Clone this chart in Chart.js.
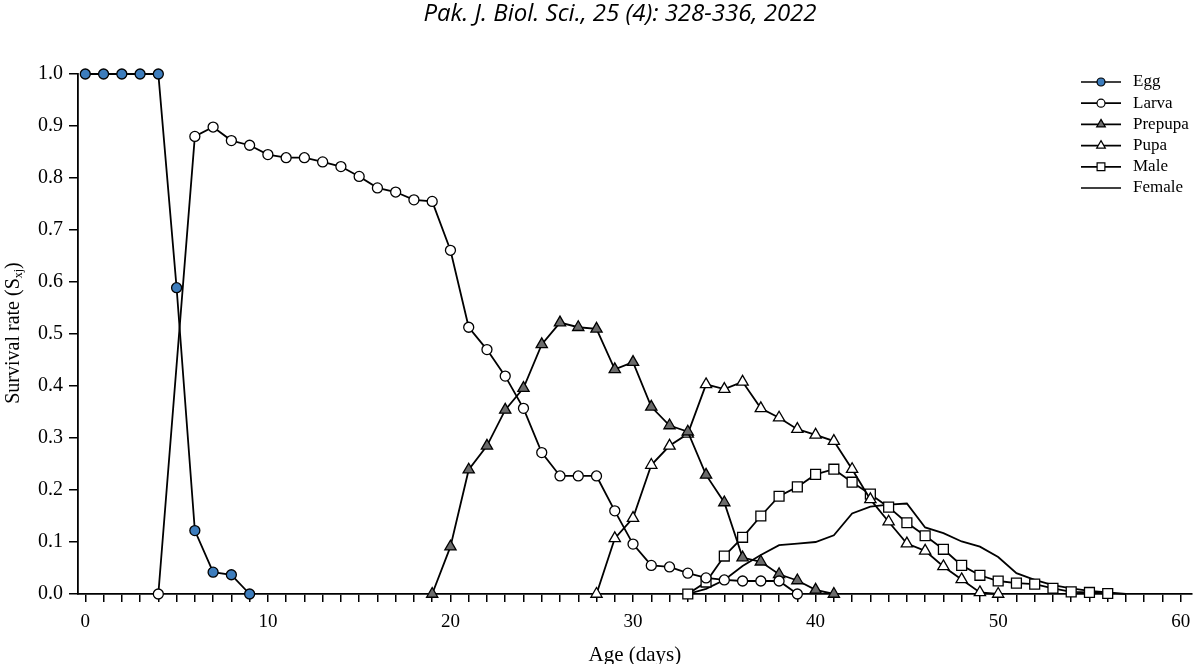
<!DOCTYPE html>
<html>
<head>
<meta charset="utf-8">
<title>Survival rate by age</title>
<script src="https://cdn.jsdelivr.net/npm/chart.js@4.4.1/dist/chart.umd.min.js"></script>
<style>
  html, body { margin: 0; padding: 0; background: #ffffff; }
  #wrap { width: 1200px; height: 664px; position: relative; }
</style>
</head>
<body>
<div id="wrap"><canvas id="chart"></canvas></div>
<script>
(() => {
    'use strict';

    // survival rate (Sxj) per stage
    const eggDays = [0, 1, 2, 3, 4, 5, 6, 7, 8, 9];
    const eggSurvival = [1, 1, 1, 1, 1, 0.589, 0.122, 0.042, 0.037, 0];

    const larvaDays = [4, 6, 7, 8, 9, 10, 11, 12, 13, 14, 15, 16, 17, 18, 19, 20, 21, 22, 23, 24,
        25, 26, 27, 28, 29, 30, 31, 32, 33, 34, 35, 36, 37, 38, 39];
    const larvaSurvival = [0, 0.880, 0.898, 0.872, 0.863, 0.845, 0.839, 0.839, 0.831, 0.822, 0.803,
        0.781, 0.773, 0.758, 0.755, 0.661, 0.513, 0.470, 0.419, 0.357, 0.272, 0.227, 0.227, 0.227,
        0.160, 0.096, 0.055, 0.052, 0.040, 0.031, 0.027, 0.025, 0.025, 0.025, 0];

    const prepupaDays = [19, 20, 21, 22, 23, 24, 25, 26, 27, 28, 29, 30, 31, 32, 33, 34, 35, 36, 37,
        38, 39, 40, 41];
    const prepupaSurvival = [0, 0.091, 0.239, 0.285, 0.354, 0.396, 0.480, 0.522, 0.513, 0.510, 0.432,
        0.446, 0.360, 0.324, 0.312, 0.229, 0.176, 0.070, 0.062, 0.038, 0.026, 0.008, 0];

    const pupaDays = [28, 29, 30, 31, 32, 33, 34, 35, 36, 37, 38, 39, 40, 41, 42, 43, 44, 45, 46, 47,
        48, 49, 50];
    const pupaSurvival = [0, 0.107, 0.146, 0.248, 0.285, 0.308, 0.403, 0.394, 0.408, 0.357, 0.339,
        0.317, 0.306, 0.294, 0.240, 0.182, 0.139, 0.097, 0.083, 0.053, 0.028, 0.003, 0];

    const maleDays = [33, 34, 35, 36, 37, 38, 39, 40, 41, 42, 43, 44, 45, 46, 47, 48, 49, 50, 51, 52,
        53, 54, 55, 56];
    const maleSurvival = [0, 0.023, 0.073, 0.109, 0.150, 0.188, 0.206, 0.230, 0.240, 0.215, 0.192,
        0.167, 0.137, 0.112, 0.086, 0.055, 0.036, 0.025, 0.021, 0.019, 0.011, 0.004, 0.003, 0.001];

    const femaleDays = [33, 34, 35, 36, 37, 38, 39, 40, 41, 42, 43, 44, 45, 46, 47, 48, 49, 50, 51,
        52, 53, 54, 55, 56, 57];
    const femaleSurvival = [0, 0.010, 0.027, 0.054, 0.075, 0.094, 0.097, 0.100, 0.113, 0.155, 0.168,
        0.172, 0.174, 0.128, 0.117, 0.101, 0.091, 0.071, 0.040, 0.027, 0.017, 0.011, 0.006, 0.003, 0];

    const xLabelDays = [0, 10, 20, 30, 40, 50, 60];
    const yTickValues = [0, 0.1, 0.2, 0.3, 0.4, 0.5, 0.6, 0.7, 0.8, 0.9, 1.0];

    const serif = '"Liberation Serif", "Times New Roman", serif';

    const toPoints = (days, values) => days.map((day, index) => ({ x: day, y: values[index] }));

    const series = (label, days, values, style) => ({
        label,
        data: toPoints(days, values),
        borderColor: '#000000',
        borderWidth: 1.8,
        tension: 0,
        clip: false,
        pointStyle: style.pointStyle || 'circle',
        pointRadius: style.radius || 0,
        pointHoverRadius: style.radius || 0,
        pointBackgroundColor: style.fill || '#ffffff',
        pointBorderColor: '#000000',
        pointBorderWidth: 1.3,
        legendRadius: style.legendRadius || 0,
    });

    const datasets = [
        series('Egg', eggDays, eggSurvival, { pointStyle: 'circle', radius: 5, fill: '#3d7dbd', legendRadius: 4 }),
        series('Larva', larvaDays, larvaSurvival, { pointStyle: 'circle', radius: 5, fill: '#ffffff', legendRadius: 4 }),
        series('Prepupa', prepupaDays, prepupaSurvival, { pointStyle: 'triangle', radius: 6.5, fill: '#6b6b6b', legendRadius: 5 }),
        series('Pupa', pupaDays, pupaSurvival, { pointStyle: 'triangle', radius: 6.5, fill: '#ffffff', legendRadius: 5 }),
        series('Male', maleDays, maleSurvival, { pointStyle: 'rect', radius: 7, fill: '#ffffff', legendRadius: 5.5 }),
        series('Female', femaleDays, femaleSurvival, {}),
    ];

    // journal header, y axis title with subscript, and the in-plot legend
    const decorations = {
        id: 'figureDecorations',
        afterDraw(chart) {
            const ctx = chart.ctx;
            ctx.save();
            ctx.fillStyle = '#000000';

            ctx.font = 'italic 24px "Open Sans", sans-serif';
            ctx.textAlign = 'center';
            ctx.textBaseline = 'middle';
            ctx.fillText('Pak. J. Biol. Sci., 25 (4): 328-336, 2022', 620, 14);

            // y title, drawn rotated so the subscript can sit lower
            ctx.save();
            ctx.translate(12, 333);
            ctx.rotate(-Math.PI / 2);
            ctx.textBaseline = 'alphabetic';
            ctx.textAlign = 'left';
            const main = 'Survival rate (S';
            const sub = 'xj';
            ctx.font = `20px ${serif}`;
            const mainWidth = ctx.measureText(main).width;
            ctx.font = `12px ${serif}`;
            const subWidth = ctx.measureText(sub).width;
            ctx.font = `20px ${serif}`;
            const closeWidth = ctx.measureText(')').width;
            const startX = -(mainWidth + subWidth + closeWidth) / 2;
            ctx.fillText(main, startX, 7);
            ctx.font = `12px ${serif}`;
            ctx.fillText(sub, startX + mainWidth, 10);
            ctx.font = `20px ${serif}`;
            ctx.fillText(')', startX + mainWidth + subWidth, 7);
            ctx.restore();

            const lineStart = 1081;
            const lineEnd = 1121;
            const textX = 1133;
            const firstRow = 82;
            const rowGap = 21.2;
            ctx.font = `17px ${serif}`;
            ctx.textAlign = 'left';
            ctx.textBaseline = 'middle';

            chart.data.datasets.forEach((dataset, index) => {
                const y = firstRow + index * rowGap;
                ctx.strokeStyle = '#000000';
                ctx.lineWidth = 1.7;
                ctx.beginPath();
                ctx.moveTo(lineStart, y);
                ctx.lineTo(lineEnd, y);
                ctx.stroke();

                if (dataset.legendRadius > 0) {
                    ctx.fillStyle = dataset.pointBackgroundColor;
                    ctx.strokeStyle = '#000000';
                    ctx.lineWidth = 1.2;
                    Chart.helpers.drawPoint(ctx, {
                        pointStyle: dataset.pointStyle,
                        radius: dataset.legendRadius,
                        rotation: 0,
                        borderWidth: 1.2,
                    }, (lineStart + lineEnd) / 2, y);
                }

                ctx.fillStyle = '#000000';
                ctx.fillText(dataset.label, textX, y);
            });

            ctx.restore();
        },
    };

    new Chart(document.getElementById('chart'), {
        type: 'line',
        data: { datasets },
        plugins: [decorations],
        options: {
            responsive: true,
            maintainAspectRatio: false,
            animation: false,
            layout: {
                padding: { top: 74, right: 1, bottom: 0, left: 0 },
            },
            plugins: {
                legend: { display: false },
                title: { display: false },
                tooltip: { enabled: false },
            },
            scales: {
                x: {
                    type: 'linear',
                    min: -0.4,
                    max: 60.6,
                    afterBuildTicks: (scale) => {
                        const ticks = [];
                        for (let day = 0; day <= 60; day += 1) {
                            ticks.push({ value: day });
                        }
                        scale.ticks = ticks;
                    },
                    afterFit: (scale) => {
                        scale.height = 70;
                    },
                    ticks: {
                        autoSkip: false,
                        maxRotation: 0,
                        padding: 9,
                        color: '#000000',
                        font: { family: serif, size: 19 },
                        callback: (value) => (xLabelDays.includes(value) ? String(value) : ''),
                    },
                    grid: {
                        drawOnChartArea: false,
                        drawTicks: true,
                        tickLength: 8,
                        color: '#000000',
                        lineWidth: 1.5,
                    },
                    border: { display: true, color: '#000000', width: 1.8 },
                    title: {
                        display: true,
                        text: 'Age (days)',
                        color: '#000000',
                        font: { family: serif, size: 21, lineHeight: 0.8 },
                        padding: { top: 0, bottom: 0 },
                    },
                },
                y: {
                    min: 0,
                    max: 1,
                    afterBuildTicks: (scale) => {
                        scale.ticks = yTickValues.map((value) => ({ value }));
                    },
                    afterFit: (scale) => {
                        scale.width = 78;
                    },
                    ticks: {
                        padding: 6,
                        color: '#000000',
                        font: { family: serif, size: 20 },
                        callback: (value) => Number(value).toFixed(1),
                    },
                    grid: {
                        drawOnChartArea: false,
                        drawTicks: true,
                        tickLength: 9,
                        color: '#000000',
                        lineWidth: 1.5,
                    },
                    border: { display: true, color: '#000000', width: 1.8 },
                },
            },
        },
    });
})();
</script>
</body>
</html>
